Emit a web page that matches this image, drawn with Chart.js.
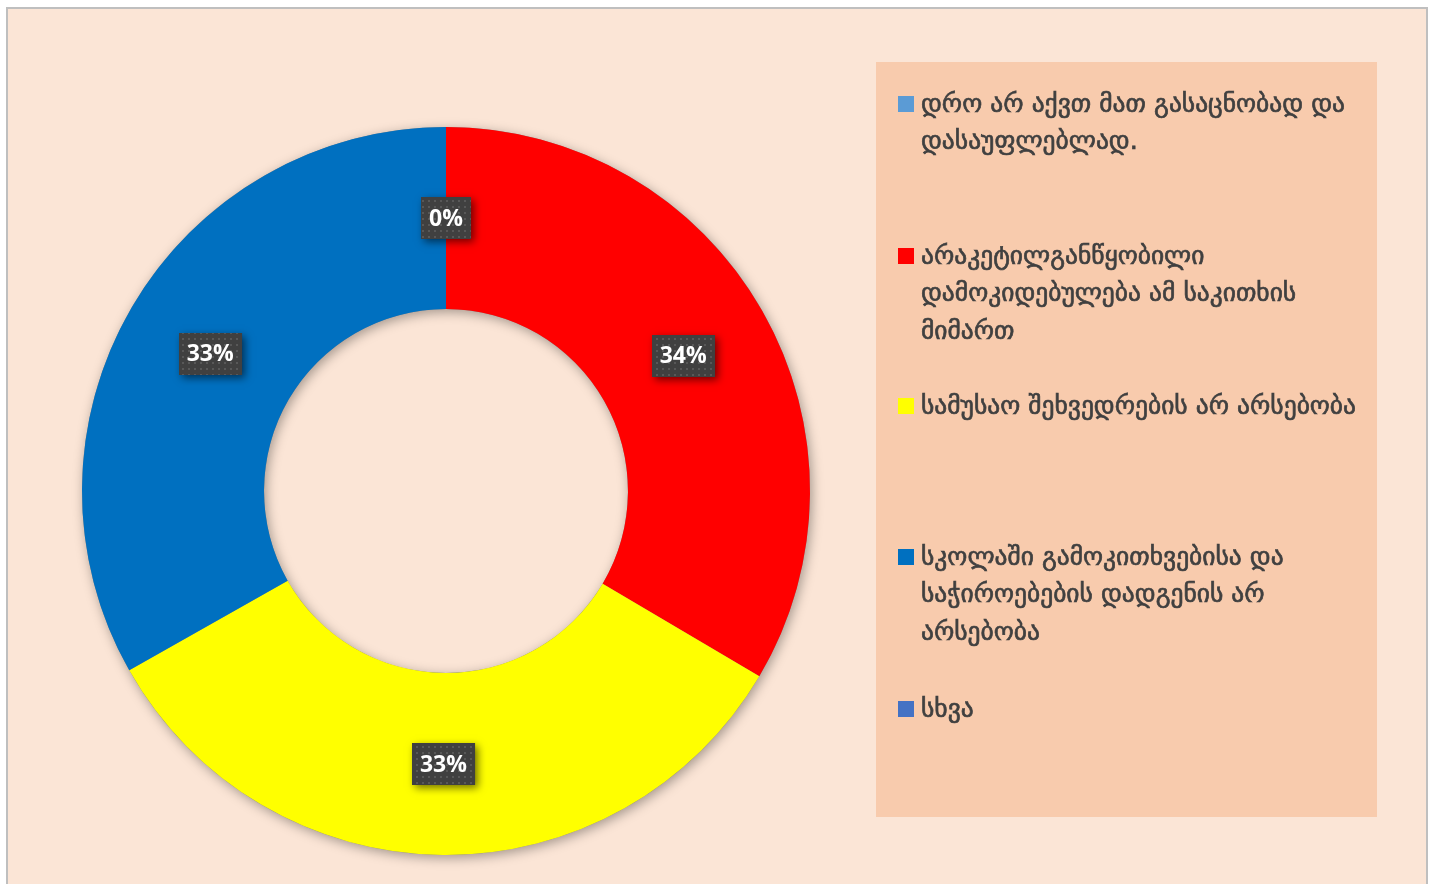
<!DOCTYPE html>
<html>
<head>
<meta charset="utf-8">
<script src="https://cdn.jsdelivr.net/npm/chart.js@4.4.1/dist/chart.umd.min.js"></script>
<style>
html,body{margin:0;padding:0;background:#fff;}
#wrap{position:relative;width:1433px;height:884px;}
</style>
</head>
<body>
<div id="wrap"><canvas id="c" width="1433" height="884"></canvas></div>
<script>
// ---- data ----
const categories = [
  "დრო არ აქვთ მათ გასაცნობად და დასაუფლებლად.",
  "არაკეტილგანწყობილი დამოკიდებულება ამ საკითხის მიმართ",
  "სამუსაო შეხვედრების არ არსებობა",
  "სკოლაში გამოკითხვებისა და საჭიროებების დადგენის არ არსებობა",
  "სხვა"
];
const legendLines = [
  ["დრო არ აქვთ მათ გასაცნობად და", "დასაუფლებლად."],
  ["არაკეტილგანწყობილი", "დამოკიდებულება ამ საკითხის", "მიმართ"],
  ["სამუსაო შეხვედრების არ არსებობა"],
  ["სკოლაში გამოკითხვებისა და", "საჭიროებების დადგენის არ", "არსებობა"],
  ["სხვა"]
];
const values = [0, 33.5, 33.3, 33.2, null];
const colors = ["#5B9BD5", "#FF0000", "#FFFF00", "#0070C0", "#4472C4"];

// ---- plugins ----
const bgPlugin = {
  id: 'bg',
  beforeDraw(chart) {
    const ctx = chart.ctx;
    ctx.save();
    ctx.fillStyle = '#ffffff';
    ctx.fillRect(0, 0, chart.width, chart.height);
    ctx.fillStyle = '#BFBFBF';
    ctx.fillRect(6, 7, 1422, 890);
    ctx.fillStyle = '#FBE5D6';
    ctx.fillRect(8, 9, 1418, 890);
    ctx.restore();
  }
};

const ringShadow = {
  id: 'ringShadow',
  beforeDatasetsDraw(chart) {
    const meta = chart.getDatasetMeta(0);
    const arc = meta.data[1] || meta.data[0];
    if (!arc) return;
    const {x, y, innerRadius, outerRadius} = arc.getProps(['x','y','innerRadius','outerRadius'], true);
    const ctx = chart.ctx;
    ctx.save();
    ctx.shadowColor = 'rgba(0,0,0,0.35)';
    ctx.shadowBlur = 12;
    ctx.shadowOffsetX = 2;
    ctx.shadowOffsetY = 3;
    ctx.beginPath();
    ctx.arc(x, y, outerRadius, 0, Math.PI * 2);
    ctx.arc(x, y, innerRadius, 0, Math.PI * 2, true);
    ctx.fillStyle = '#888';
    ctx.fill('evenodd');
    ctx.restore();
  }
};

function makePattern(ctx) {
  const p = document.createElement('canvas');
  p.width = 6; p.height = 6;
  const pc = p.getContext('2d');
  pc.fillStyle = '#404040';
  pc.fillRect(0, 0, 6, 6);
  pc.fillStyle = '#585858';
  pc.fillRect(2, 2, 2, 2);
  return ctx.createPattern(p, 'repeat');
}

const labelPlugin = {
  id: 'valLabels',
  afterDatasetsDraw(chart) {
    const ctx = chart.ctx;
    const ds = chart.data.datasets[0];
    const total = ds.data.reduce((a, b) => a + (b || 0), 0);
    const meta = chart.getDatasetMeta(0);
    ctx.save();
    ctx.font = 'bold 23px "Open Sans", "DejaVu Sans", sans-serif';
    const pat = makePattern(ctx);
    meta.data.forEach((arc, i) => {
      const v = ds.data[i];
      if (v === null || v === undefined) return;
      const txt = Math.round(v / total * 100) + '%';
      const pt = arc.getCenterPoint();
      const w = ctx.measureText(txt).width + 16;
      const h = 42;
      const bx = Math.round(pt.x - w / 2), by = Math.round(pt.y - h / 2);
      ctx.save();
      ctx.shadowColor = 'rgba(0,0,0,0.55)';
      ctx.shadowBlur = 8;
      ctx.shadowOffsetX = 3;
      ctx.shadowOffsetY = 3;
      ctx.fillStyle = '#404040';
      ctx.fillRect(bx, by, w, h);
      ctx.restore();
      ctx.fillStyle = pat;
      ctx.fillRect(bx, by, w, h);
      ctx.fillStyle = '#ffffff';
      ctx.textAlign = 'center';
      ctx.textBaseline = 'middle';
      ctx.fillText(txt, pt.x, pt.y + 1);
    });
    ctx.restore();
  }
};

const legendPlugin = {
  id: 'customLegend',
  afterDraw(chart) {
    const ctx = chart.ctx;
    ctx.save();
    ctx.fillStyle = '#F8CBAD';
    ctx.fillRect(876, 62, 501, 755);
    const firstY = [105, 257, 407, 558, 710];
    const lh = 37.5;
    ctx.font = '25.5px "DejaVu Sans", sans-serif';
    ctx.textBaseline = 'middle';
    ctx.textAlign = 'left';
    ctx.lineWidth = 0.7;
    ctx.strokeStyle = '#404040';
    legendLines.forEach((lines, i) => {
      ctx.fillStyle = colors[i];
      ctx.fillRect(898, firstY[i] - 9, 16, 16);
      ctx.fillStyle = '#404040';
      lines.forEach((ln, j) => {
        ctx.fillText(ln, 921, firstY[i] + j * lh);
        ctx.strokeText(ln, 921, firstY[i] + j * lh);
      });
    });
    ctx.restore();
  }
};

new Chart(document.getElementById('c'), {
  type: 'doughnut',
  data: {
    labels: categories,
    datasets: [{
      data: values,
      backgroundColor: colors,
      borderWidth: 0,
      hoverOffset: 0
    }]
  },
  options: {
    responsive: false,
    animation: false,
    cutout: '50%',
    layout: { padding: { left: 82, top: 127, right: 623, bottom: 29 } },
    plugins: {
      legend: { display: false },
      tooltip: { enabled: false }
    },
    events: []
  },
  plugins: [bgPlugin, ringShadow, labelPlugin, legendPlugin]
});
</script>
</body>
</html>
